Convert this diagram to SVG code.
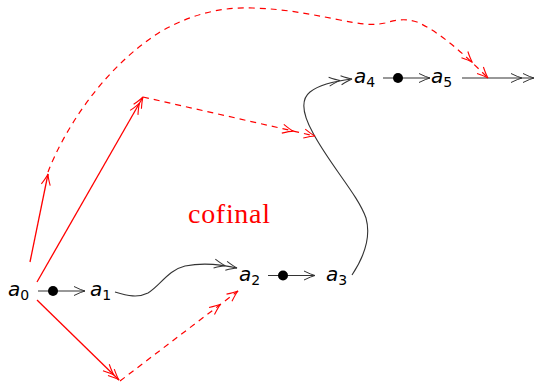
<svg xmlns="http://www.w3.org/2000/svg" width="535" height="382" viewBox="0 0 535 382">
<style>
.lbl{font-family:"DejaVu Sans","Liberation Sans",sans-serif;font-size:20px;font-style:italic;fill:#000}
.sub{font-size:14px;font-style:normal}
.blk{fill:none;stroke:#333;stroke-width:1.1}
.red{fill:none;stroke:#ff0000;stroke-width:1.3}
.rdash{fill:none;stroke:#ff0000;stroke-width:1.2;stroke-dasharray:6 5}
.hb{fill:none;stroke:#333;stroke-width:1}
.hr{fill:none;stroke:#ff0000;stroke-width:1.1}
</style>
<defs>
<marker id="bk1" markerUnits="userSpaceOnUse" viewBox="-30 -10 32 20" markerWidth="32" markerHeight="20" refX="0" refY="0" orient="auto" overflow="visible">
<path class="hb" d="M-11,-4.5 Q-4,-1 0,0 Q-4,1 -11,4.5"/>
</marker>
<marker id="bk2" markerUnits="userSpaceOnUse" viewBox="-30 -10 32 20" markerWidth="32" markerHeight="20" refX="0" refY="0" orient="auto" overflow="visible">
<path class="hb" d="M-11,-4.5 Q-4,-1 0,0 Q-4,1 -11,4.5 M-23,-4.5 Q-16,-1 -12,0 Q-16,1 -23,4.5"/>
</marker>
<marker id="rd1" markerUnits="userSpaceOnUse" viewBox="-30 -10 32 20" markerWidth="32" markerHeight="20" refX="0" refY="0" orient="auto" overflow="visible">
<path class="hr" d="M-11,-4.5 Q-4,-1 0,0 Q-4,1 -11,4.5"/>
</marker>
<marker id="rd2" markerUnits="userSpaceOnUse" viewBox="-30 -10 32 20" markerWidth="32" markerHeight="20" refX="0" refY="0" orient="auto" overflow="visible">
<path class="hr" d="M-11,-4.5 Q-4,-1 0,0 Q-4,1 -11,4.5 M-18,-4.5 Q-11,-1 -7,0 Q-11,1 -18,4.5"/>
</marker>
<marker id="rdw" markerUnits="userSpaceOnUse" viewBox="-40 -10 42 20" markerWidth="42" markerHeight="20" refX="0" refY="0" orient="auto" overflow="visible">
<path class="hr" d="M-11,-4.5 Q-4,-1 0,0 Q-4,1 -11,4.5 M-33,-4.5 Q-26,-1 -22,0 Q-26,1 -33,4.5"/>
</marker>
</defs>

<g id="connectors">
<path class="blk" d="M38,291 L85,291" marker-end="url(#bk1)"/>
<circle cx="53" cy="291" r="5" fill="#000"/>
<path class="blk" d="M115,292 C128,296 138,298 148,293 C160,286 168,270 185,266 C205,262 222,265 237,268" marker-end="url(#bk2)"/>
<path class="blk" d="M268,275.5 L315,275.5" marker-end="url(#bk1)"/>
<circle cx="283" cy="275.5" r="5" fill="#000"/>
<path class="blk" d="M352,275 C362,260 372,240 366,218 C358,195 330,165 313,133 C303,115 300,100 310,92 C320,84 335,81 352,79" marker-end="url(#bk2)"/>
<path class="blk" d="M383,78 L430,78" marker-end="url(#bk1)"/>
<circle cx="398" cy="78" r="5" fill="#000"/>
<path class="blk" d="M462,78 L534,78" marker-end="url(#bk2)"/>

<path class="red" d="M30,262 L48,174" marker-end="url(#rd1)"/>
<path class="rdash" d="M48,172 C62,135 100,70 160,32 C195,12 225,7 253,8 C285,9 310,14 340,20 C360,24 372,26 385,23 C395,20 405,18 417,22 C440,32 465,55 488,78" marker-end="url(#rdw)"/>
<path class="red" d="M37,282 L143,97" marker-end="url(#rd2)"/>
<path class="rdash" d="M143,97 L315,136" marker-end="url(#rdw)"/>
<path class="red" d="M37,300 L119,380" marker-end="url(#rd2)"/>
<path class="rdash" d="M120,381 L238,291" marker-end="url(#rdw)"/>
</g>

<g id="a0"><text class="lbl" x="8" y="296">a<tspan class="sub" dy="4">0</tspan></text></g>
<g id="a1"><text class="lbl" x="90" y="296">a<tspan class="sub" dy="4">1</tspan></text></g>
<g id="a2"><text class="lbl" x="239" y="281">a<tspan class="sub" dy="4">2</tspan></text></g>
<g id="a3"><text class="lbl" x="326" y="281">a<tspan class="sub" dy="4">3</tspan></text></g>
<g id="a4"><text class="lbl" x="354" y="83">a<tspan class="sub" dy="4">4</tspan></text></g>
<g id="a5"><text class="lbl" x="431" y="83">a<tspan class="sub" dy="4">5</tspan></text></g>
<g id="cofinal"><text x="188" y="223" font-family="'Liberation Serif',serif" font-size="28" fill="#ff0000" textLength="82">cofinal</text></g>
</svg>
